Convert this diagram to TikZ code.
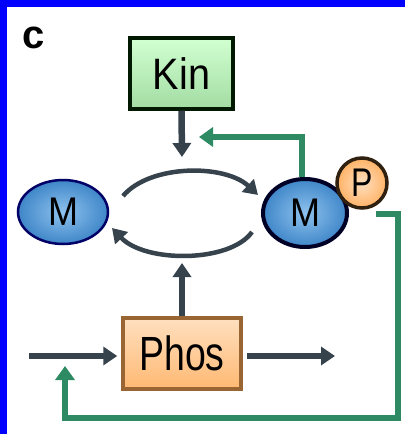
\documentclass[tikz,border=0pt]{standalone}
\usepackage{fontspec}
\setmainfont{Liberation Sans}
\usetikzlibrary{shapes.geometric,arrows.meta}
\definecolor{darr}{HTML}{36424C}
\definecolor{garr}{HTML}{2E8A62}
\definecolor{mblue}{HTML}{3F86C8}
\definecolor{mlight}{HTML}{8EC2EE}
\tikzset{
  darrow/.style={draw=darr, line width=6.5pt, -{Triangle[length=14pt,width=18pt]}},
  darc/.style={draw=darr, line width=4.5pt},
  garrow/.style={draw=garr, line width=6pt, -{Triangle[length=14pt,width=19pt]}},
  mball/.style={ellipse, inner sep=0pt, inner color=mlight, outer color=mblue,
    font=\fontsize{40}{40}\selectfont},
  boxnode/.style={rectangle, inner sep=0pt, line width=3.5pt}
}
\begin{document}
\begin{tikzpicture}[x=1pt,y=-1pt]
\useasboundingbox (0,0) rectangle (405,434);
\fill[white] (0,0) rectangle (405,434);
\fill[blue] (0,0) rectangle (405,7);
\fill[blue] (0,0) rectangle (7,434);
\node[font=\bfseries\fontsize{40}{40}\selectfont] (lab) at (34,38) {c};
\node[boxnode, draw=black!90!green, top color=green!18!white, bottom color=green!45!gray!50!white,
  minimum width=103pt, minimum height=71pt, font=\fontsize{44}{44}\selectfont] (kin) at (181.5,73.5) {\scalebox{0.9}[1]{Kin}};
\node[boxnode, draw=brown!80!black, top color=orange!25!white, bottom color=orange!55!white,
  minimum width=118pt, minimum height=71pt, font=\fontsize{48}{48}\selectfont] (phos) at (182,353.5) {\scalebox{0.78}[1]{Phos}};
\node[mball, draw=blue!40!black, line width=2.5pt, minimum width=90pt, minimum height=64pt] (ml) at (63,212) {\scalebox{0.9}[1]{M}};
\node[mball, draw=black!85!blue, line width=4pt, minimum width=84pt, minimum height=68pt] (mr) at (305,213) {\scalebox{0.9}[1]{M}};
\node[circle, draw=black!75!brown, line width=3.5pt, inner sep=0pt, minimum size=50pt,
  inner color=orange!25!white, outer color=orange!60!white, font=\fontsize{40}{40}\selectfont] (p) at (362,183) {\scalebox{0.8}[1]{P}};
% coordinates
\coordinate (kinend) at (182,157);
\coordinate (phosend) at (182,263);
\coordinate (inl) at (29,356);
\coordinate (outr) at (335,356);
\coordinate (a1) at (123,196);
\coordinate (a2) at (258,195);
\coordinate (b1) at (252,232);
\coordinate (b2) at (112,228);
\coordinate (g1) at (302,137);
\coordinate (g2) at (199,137);
\coordinate (h0) at (376,214);
\coordinate (h1) at (398,214);
\coordinate (h2) at (398,418);
\coordinate (h3) at (65,418);
\coordinate (h4) at (65,366);
% connectors
\draw[darrow] (kin.south) -- (kinend);
\draw[darrow] (phos.north) -- (phosend);
\draw[darrow] (inl) -- ([xshift=-4pt]inl -| phos.west);
\draw[darrow] ([xshift=4pt]outr -| phos.east) -- (outr);
\draw[darc, -{Triangle[length=14pt,width=17pt]}] (a1) .. controls (150,164) and (225,164) .. (a2);
\draw[darc, -{Triangle[length=14pt,width=17pt]}] (b1) .. controls (230,263) and (145,263) .. (b2);
\draw[garrow] (mr.north -| g1) -- (g1) -- (g2);
\draw[garrow] (h0) -- (h1) -- (h2) -- (h3) -- (h4);
\end{tikzpicture}
\end{document}
